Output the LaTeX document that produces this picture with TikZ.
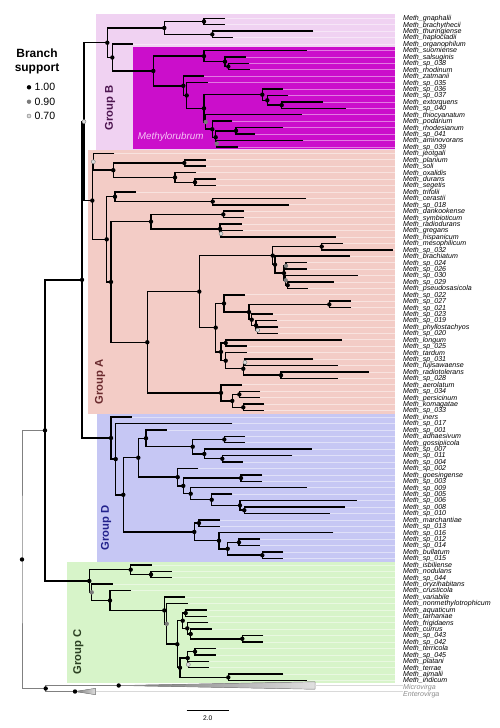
\documentclass[tikz,border=0pt]{standalone}
\usepackage{fontspec}
\setmainfont{Liberation Sans}
\usetikzlibrary{calc}
\definecolor{grpB}{HTML}{F0D2F2}
\definecolor{methy}{HTML}{CB0ECB}
\definecolor{grpA}{HTML}{F3CCC6}
\definecolor{grpD}{HTML}{C6C7F4}
\definecolor{grpC}{HTML}{D7F4C9}
\definecolor{grpBtxt}{HTML}{4D1650}
\definecolor{grpAtxt}{HTML}{6A2A2E}
\definecolor{grpDtxt}{HTML}{22228C}
\definecolor{grpCtxt}{HTML}{2B4022}
\definecolor{methytxt}{HTML}{F6C4F6}
\definecolor{mid}{HTML}{7A7A7A}
\definecolor{pale}{HTML}{DCDCDC}
\pgfdeclarelayer{front}
\pgfsetlayers{main,front}
% tip: id, row, end of branch, name
\newcommand{\taxon}[4]{%
  \coordinate (t#1) at (#3,{18.3+6.43*#2});
  \node[taxlbl] (l#1) at (403,{20.7+6.43*#2}) {Meth\_#4};
  \draw[guide] (t#1) -- (t#1 -| l#1.west);
}
% clade: [support] id, x, child, child
\newcommand{\clade}[5][sup100]{%
  \coordinate (#2) at ($(#4)!.5!(#5)$);
  \coordinate (xh) at (#3,0);
  \coordinate (#2) at (xh |- #2);
  \draw[branch] (#4) -| (#2) |- (#5);
  \begin{pgfonlayer}{front}\node[#1] (s#2) at (#2) {};\end{pgfonlayer}%
}

\begin{document}
\begin{tikzpicture}[x=0.05cm,y=-0.05cm,font=\fontsize{10}{12}\selectfont,
  branch/.style={draw=black,line width=2.1pt},
  guide/.style={draw=white,draw opacity=0.45,line width=0.9pt},
  outguide/.style={draw=black!15,line width=0.9pt},
  taxlbl/.style={anchor=base west,inner sep=0pt,font=\fontsize{10.1}{10}\selectfont\itshape},
  outlbl/.style={taxlbl,text=black!45},
  sup100/.style={circle,fill=black,inner sep=0pt,minimum size=0.22cm},
  sup090/.style={circle,fill=mid,inner sep=0pt,minimum size=0.22cm},
  sup070/.style={circle,fill=pale,draw=mid,line width=0.6pt,inner sep=0pt,minimum size=0.2cm},
  grplbl/.style={rotate=90,font=\fontsize{16}{16}\selectfont\bfseries},
  leglbl/.style={anchor=west,inner sep=0pt,font=\fontsize{15}{15}\selectfont},
  wedge/.style={draw=black!45,line width=0.6pt,left color=black!55,right color=black!12}]
  \useasboundingbox (0,0) rectangle (500,728);
  \fill[white] (0,0) rectangle (500,728);

  % ===== group boxes =====
  \fill[grpB] (96,14) rectangle (395,150.1);
  \fill[methy] (132.7,47.3) rectangle (395,149.3);
  \fill[grpA] (88.3,150.1) rectangle (395,413.8);
  \fill[grpD] (96.7,413.8) rectangle (395,561.7);
  \fill[grpC] (67.3,561.7) rectangle (395,682.5);
  \node[grplbl,text=grpBtxt] (gB) at (110,108) {Group B};
  \node[grplbl,text=grpAtxt] (gA) at (100,382) {Group A};
  \node[grplbl,text=grpDtxt] (gD) at (106,528) {Group D};
  \node[grplbl,text=grpCtxt] (gC) at (78.3,651.7) {Group C};
  \node[font=\fontsize{14}{14}\selectfont\itshape,text=methytxt] (mlbl) at (170.8,137) {Methylorubrum};

  % ===== legend =====
  \node[font=\fontsize{17}{20.4}\selectfont\bfseries,align=center] (legtitle) at (37,61.2) {Branch\\support};
  \node[sup100] (leg1) at (29,87.3) {};
  \node[sup090] (leg2) at (29,101.7) {};
  \node[sup070] (leg3) at (29,116) {};
  \node[leglbl] (leg1t) at (34.5,87.3) {1.00};
  \node[leglbl] (leg2t) at (34.5,101.7) {0.90};
  \node[leglbl] (leg3t) at (34.5,116) {0.70};

  % ===== Group B =====
  \taxon{gnaphalii}{0}{225}{gnaphalii}
  \taxon{brachythecii}{1}{225}{brachythecii}
  \taxon{thuringiense}{2}{313.3}{thuringiense}
  \taxon{haplocladii}{3}{232.7}{haplocladii}
  \taxon{organophilum}{4}{132.7}{organophilum}
  \taxon{suomiense}{5}{306.7}{suomiense}
  \taxon{salsuginis}{6}{245.7}{salsuginis}
  \taxon{sp038}{7}{249.3}{sp\_038}
  \taxon{rhodinum}{8}{250}{rhodinum}
  \taxon{zatmanii}{9}{204}{zatmanii}
  \taxon{sp035}{10}{207.7}{sp\_035}
  \taxon{sp036}{11}{282.7}{sp\_036}
  \taxon{sp037}{12}{288.3}{sp\_037}
  \taxon{extorquens}{13}{323.3}{extorquens}
  \taxon{sp040}{14}{346}{sp\_040}
  \taxon{thiocyanatum}{15}{301.7}{thiocyanatum}
  \taxon{podarium}{16}{232.3}{podarium}
  \taxon{rhodesianum}{17}{283.3}{rhodesianum}
  \taxon{sp041}{18}{255}{sp\_041}
  \taxon{aminovorans}{19}{303.3}{aminovorans}
  \taxon{sp039}{20}{238.3}{sp\_039}
  \clade{B01}{204}{tgnaphalii}{tbrachythecii}
  \clade{B02}{212.3}{tthuringiense}{thaplocladii}
  \clade{B03}{164.3}{B01}{B02}
  \clade{B04}{228.3}{tsp038}{trhodinum}
  \clade{B05}{225}{tsalsuginis}{B04}
  \clade{B06}{204}{tsuomiense}{B05}
  \clade{B07}{281.7}{textorquens}{tsp040}
  \clade{B08}{267.3}{tsp037}{B07}
  \clade{B09}{262.3}{tsp036}{B08}
  \clade{B10}{236}{trhodesianum}{tsp041}
  \clade[sup090]{B11}{216.7}{taminovorans}{tsp039}
  \clade{B12}{215.7}{B10}{B11}
  \clade{B13}{212.3}{tpodarium}{B12}
  \clade[sup090]{B14}{205.7}{tthiocyanatum}{B13}
  \clade{B15}{204}{B09}{B14}
  \clade{B16}{186.7}{tsp035}{B15}
  \clade{B17}{183.3}{tzatmanii}{B16}
  \clade{B18}{153.3}{B06}{B17}
  \clade{B19}{112.3}{torganophilum}{B18}
  \clade{B20}{107.3}{B03}{B19}

  % ===== Group A =====
  \taxon{jeotgali}{21}{114.3}{jeotgali}
  \taxon{planium}{22}{206}{planium}
  \taxon{soli}{23}{206}{soli}
  \taxon{oxalidis}{24}{196}{oxalidis}
  \taxon{durans}{25}{215.7}{durans}
  \taxon{segetis}{26}{215.7}{segetis}
  \taxon{trifolii}{27}{136}{trifolii}
  \taxon{cerastii}{28}{306}{cerastii}
  \taxon{sp018}{29}{289.3}{sp\_018}
  \taxon{dankookense}{30}{244.3}{dankookense}
  \taxon{symbioticum}{31}{244.3}{symbioticum}
  \taxon{radiodurans}{32}{241.7}{radiodurans}
  \taxon{gregans}{33}{242.7}{gregans}
  \taxon{hispanicum}{34}{336}{hispanicum}
  \taxon{mesophilicum}{35}{342.7}{mesophilicum}
  \taxon{sp032}{36}{393}{sp\_032}
  \taxon{brachiatum}{37}{350}{brachiatum}
  \taxon{sp024}{38}{306.7}{sp\_024}
  \taxon{sp026}{39}{306.7}{sp\_026}
  \taxon{sp030}{40}{357.7}{sp\_030}
  \taxon{sp029}{41}{334}{sp\_029}
  \taxon{pseudosasicola}{42}{308.3}{pseudosasicola}
  \taxon{sp022}{43}{245}{sp\_022}
  \taxon{sp027}{44}{350.7}{sp\_027}
  \taxon{sp021}{45}{350.7}{sp\_021}
  \taxon{sp023}{46}{272.7}{sp\_023}
  \taxon{sp019}{47}{276.7}{sp\_019}
  \taxon{phyllostachyos}{48}{278.3}{phyllostachyos}
  \taxon{sp020}{49}{278.3}{sp\_020}
  \taxon{longum}{50}{341.7}{longum}
  \taxon{sp025}{51}{246.7}{sp\_025}
  \taxon{tardum}{52}{246.7}{tardum}
  \taxon{sp031}{53}{313.3}{sp\_031}
  \taxon{fujisawaense}{54}{338.3}{fujisawaense}
  \taxon{radiotolerans}{55}{369}{radiotolerans}
  \taxon{sp028}{56}{338.3}{sp\_028}
  \taxon{aerolatum}{57}{241.7}{aerolatum}
  \taxon{sp034}{58}{260}{sp\_034}
  \taxon{persicinum}{59}{260}{persicinum}
  \taxon{komagatae}{60}{264.3}{komagatae}
  \taxon{sp033}{61}{264.3}{sp\_033}
  \clade{A01}{184.3}{tplanium}{tsoli}
  \clade{A02}{195}{tdurans}{tsegetis}
  \clade{A03}{175}{toxalidis}{A02}
  \clade{A04}{113.3}{A01}{A03}
  \clade[sup070]{A05}{93.3}{tjeotgali}{A04}
  \clade{A06}{212.7}{tcerastii}{tsp018}
  \clade{A07}{115}{ttrifolii}{A06}
  \clade{A08}{223.3}{tdankookense}{tsymbioticum}
  \clade[sup070]{A09}{221}{tgregans}{thispanicum}
  \clade{A10}{220}{tradiodurans}{A09}
  \clade{A11}{151}{A08}{A10}
  \clade{A12}{321.7}{tmesophilicum}{tsp032}
  \clade[sup090]{A13}{286}{tsp024}{tsp026}
  \clade{A14}{287.7}{tsp029}{tpseudosasicola}
  \clade[sup090]{A15}{285.7}{tsp030}{A14}
  \clade{A16}{284}{A13}{A15}
  \clade{A17}{275}{tbrachiatum}{A16}
  \clade{A18}{272.7}{A12}{A17}
  \clade{A19}{329.3}{tsp027}{tsp021}
  \clade[sup070]{A20}{257.7}{tphyllostachyos}{tsp020}
  \clade{A21}{256}{tsp019}{A20}
  \clade{A22}{251.7}{tsp023}{A21}
  \clade{A23}{249}{A19}{A22}
  \clade{A24}{224}{tsp022}{A23}
  \clade{A25}{225.7}{tlongum}{tsp025}
  \clade[sup070]{A26}{245}{tsp031}{tfujisawaense}
  \clade{A27}{281}{tradiotolerans}{tsp028}
  \clade{A28}{243.3}{A26}{A27}
  \clade{A29}{225.7}{ttardum}{A28}
  \clade{A30}{221}{A25}{A29}
  \clade{A31}{215.7}{A24}{A30}
  \clade{A32}{199.3}{A18}{A31}
  \clade{A33}{239.3}{tsp034}{tpersicinum}
  \clade{A34}{243.3}{tkomagatae}{tsp033}
  \clade{A35}{232.3}{A33}{A34}
  \clade{A36}{221}{taerolatum}{A35}
  \clade{A37}{147.3}{A32}{A36}
  \clade{A38}{111}{A11}{A37}
  \clade{A39}{106.7}{A07}{A38}
  \clade{A40}{92.3}{A05}{A39}

  % ===== Group D =====
  \taxon{iners}{62}{131.7}{iners}
  \taxon{sp017}{63}{232.3}{sp\_017}
  \taxon{sp001}{64}{166.7}{sp\_001}
  \taxon{adhaesivum}{65}{245}{adhaesivum}
  \taxon{gossipiicola}{66}{245}{gossipiicola}
  \taxon{sp007}{67}{311.7}{sp\_007}
  \taxon{sp011}{68}{292.3}{sp\_011}
  \taxon{sp004}{69}{243.3}{sp\_004}
  \taxon{sp002}{70}{198.3}{sp\_002}
  \taxon{goesingense}{71}{262.3}{goesingense}
  \taxon{sp003}{72}{262.3}{sp\_003}
  \taxon{sp009}{73}{306.7}{sp\_009}
  \taxon{sp005}{74}{232.3}{sp\_005}
  \taxon{sp006}{75}{356.7}{sp\_006}
  \taxon{sp008}{76}{345}{sp\_008}
  \taxon{sp010}{77}{330}{sp\_010}
  \taxon{marchantiae}{78}{220}{marchantiae}
  \taxon{sp013}{79}{220}{sp\_013}
  \taxon{sp016}{80}{333.3}{sp\_016}
  \taxon{sp012}{81}{260}{sp\_012}
  \taxon{sp014}{82}{260}{sp\_014}
  \taxon{bullatum}{83}{283.3}{bullatum}
  \taxon{sp015}{84}{283.3}{sp\_015}
  \clade{D01}{224.3}{tadhaesivum}{tgossipiicola}
  \clade{D02}{222.3}{tsp011}{tsp004}
  \clade{D03}{204.3}{tsp007}{D02}
  \clade{D04}{192.7}{D01}{D03}
  \clade{D05}{146}{tsp001}{D04}
  \clade{D06}{241}{tgoesingense}{tsp003}
  \clade{D07}{244.3}{tsp008}{tsp010}
  \clade{D08}{240}{tsp006}{D07}
  \clade{D09}{211.7}{tsp005}{D08}
  \clade{D10}{190.7}{tsp009}{D09}
  \clade{D11}{183.3}{D06}{D10}
  \clade{D12}{177.7}{tsp002}{D11}
  \clade{D13}{138.3}{D05}{D12}
  \clade{D14}{199}{tmarchantiae}{tsp013}
  \clade{D15}{239}{tsp012}{tsp014}
  \clade{D16}{262.3}{tbullatum}{tsp015}
  \clade{D17}{227.7}{D15}{D16}
  \clade{D18}{219}{tsp016}{D17}
  \clade{D19}{194.3}{D14}{D18}
  \clade{D20}{123.3}{D13}{D19}
  \clade{D21}{115.7}{tsp017}{D20}
  \clade{D22}{111}{tiners}{D21}

  % ===== Group C =====
  \taxon{isbiliense}{85}{151.7}{isbiliense}
  \taxon{nodulans}{86}{171.7}{nodulans}
  \taxon{sp044}{87}{171.7}{sp\_044}
  \taxon{oryzihabitans}{88}{112.7}{oryzihabitans}
  \taxon{crusticola}{89}{130.7}{crusticola}
  \taxon{variabile}{90}{185}{variabile}
  \taxon{nonmethylotrophicum}{91}{187.7}{nonmethylotrophicum}
  \taxon{aquaticum}{92}{206.7}{aquaticum}
  \taxon{tarhaniae}{93}{206.7}{tarhaniae}
  \taxon{frigidaens}{94}{208.3}{frigidaens}
  \taxon{currus}{95}{211.7}{currus}
  \taxon{sp043}{96}{263.3}{sp\_043}
  \taxon{sp042}{97}{263.3}{sp\_042}
  \taxon{terricola}{98}{216}{terricola}
  \taxon{sp045}{99}{216}{sp\_045}
  \taxon{platani}{100}{209.3}{platani}
  \taxon{terrae}{101}{209.3}{terrae}
  \taxon{ajmalii}{102}{283.3}{ajmalii}
  \taxon{indicum}{103}{307.3}{indicum}
  \clade{C01}{151}{tnodulans}{tsp044}
  \clade{C02}{130.7}{tisbiliense}{C01}
  \clade{C03}{185.7}{taquaticum}{ttarhaniae}
  \clade{C04}{242.3}{tsp043}{tsp042}
  \clade{C05}{190.7}{tcurrus}{C04}
  \clade{C06}{187.3}{tfrigidaens}{C05}
  \clade{C07}{182.7}{C03}{C06}
  \clade{C08}{195}{tterricola}{tsp045}
  \clade[sup070]{C09}{188.3}{tplatani}{tterrae}
  \clade{C10}{187.7}{C08}{C09}
  \clade{C11}{228.3}{tajmalii}{tindicum}
  \clade{C12}{180}{C10}{C11}
  \clade{C13}{177.3}{C07}{C12}
  \clade[sup090]{C14}{166.7}{tnonmethylotrophicum}{C13}
  \clade{C15}{164.3}{tvariabile}{C14}
  \clade{C16}{110}{tcrusticola}{C15}
  \clade[sup090]{C17}{91.7}{toryzihabitans}{C16}
  \clade{C18}{89.3}{C02}{C17}

  % ===== backbone =====
  \clade[sup070]{BA}{84}{B20}{A40}
  \clade{BAD}{82}{BA}{D22}
  \clade{ING}{45}{BAD}{C18}

  % ===== outgroups =====
  \coordinate (tmicro) at (118.7,685.5);
  \coordinate (tentero) at (75,691.5);
  \coordinate (emicro) at (315,685.5);
  \coordinate (eentero) at (95.7,691.5);
  \filldraw[wedge] (tmicro) -- (315,681.8) -- (315,689.2) -- cycle;
  \filldraw[wedge] (tentero) -- (95.7,688.3) -- (95.7,694.7) -- cycle;
  \node[outlbl] (lmicro) at (403,689.7) {Microvirga};
  \node[outlbl] (lentero) at (403,696.1) {Enterovirga};
  \draw[outguide] (emicro) -- (emicro -| lmicro.west);
  \draw[outguide] (eentero) -- (eentero -| lentero.west);
  \begin{scope}[branch/.style={draw=black!50,line width=1.3pt}]
    \clade{OUT}{45.7}{tmicro}{tentero}
    \clade{ROOT}{22}{ING}{OUT}
  \end{scope}
  \begin{pgfonlayer}{front}
    \node[sup100] (smicro) at (tmicro) {};
    \node[sup100] (sentero) at (tentero) {};
  \end{pgfonlayer}

  % ===== scale bar =====
  \coordinate (sb0) at (186.7,710.3);
  \coordinate (sb1) at (228.7,710.3);
  \draw[line width=1pt] (sb0) -- (sb1);
  \node[font=\fontsize{9.5}{9.5}\selectfont] (sbl) at (207.7,717.7) {2.0};
\end{tikzpicture}
\end{document}
